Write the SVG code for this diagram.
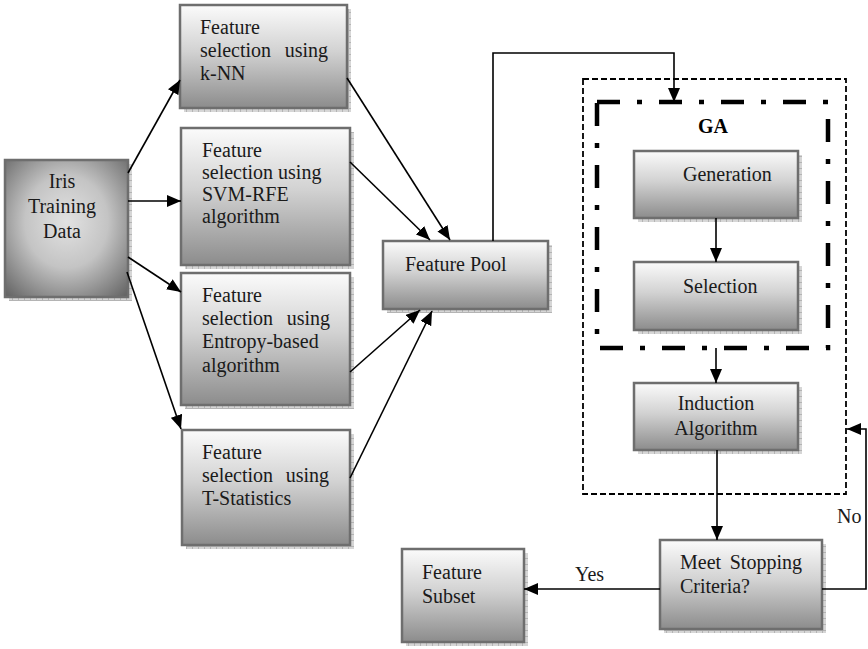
<svg xmlns="http://www.w3.org/2000/svg" width="868" height="649" viewBox="0 0 868 649">
<defs>
  <linearGradient id="boxGrad" x1="0" y1="0" x2="0" y2="1">
    <stop offset="0" stop-color="#fbfbfb"/>
    <stop offset="0.45" stop-color="#d2d2d2"/>
    <stop offset="1" stop-color="#8c8c8c"/>
  </linearGradient>
  <radialGradient id="irisGrad" cx="0.5" cy="0.45" r="0.75">
    <stop offset="0" stop-color="#e2e2e2"/>
    <stop offset="0.45" stop-color="#c4c4c4"/>
    <stop offset="1" stop-color="#5e5e5e"/>
  </radialGradient>
  <pattern id="shadowPat" width="6" height="6" patternUnits="userSpaceOnUse">
    <rect width="6" height="6" fill="#d6d6d6"/>
    <path d="M0,0.5 H6 M0.5,0 V6" stroke="#b4b4b4" stroke-width="1"/>
  </pattern>
  <marker id="arr" markerUnits="userSpaceOnUse" markerWidth="15" markerHeight="12" refX="14" refY="6" orient="auto">
    <path d="M0,0 L14,6 L0,12 z" fill="#000"/>
  </marker>
  <style>
    .shadow{fill:url(#shadowPat);}
    .box{fill:url(#boxGrad);stroke:#6e6e6e;stroke-width:2.5;}
    .iris{fill:url(#irisGrad);stroke:#6e6e6e;stroke-width:2.5;}
    .t{font-family:"Liberation Serif","Times New Roman",serif;font-size:20px;fill:#1a1a1a;}
    .b{font-family:"Liberation Serif","Times New Roman",serif;font-size:20px;font-weight:bold;fill:#000;}
    .c{fill:none;stroke:#000;stroke-width:1.6;marker-end:url(#arr);}
  </style>
</defs>

<g id="outer-loop">
  <rect x="583" y="79" width="263" height="415" fill="none" stroke="#000" stroke-width="1.8" stroke-dasharray="6,3"/>
</g>
<g id="ga-group">
  <rect x="597" y="102" width="231" height="246" fill="none" stroke="#000" stroke-width="4.5" stroke-dasharray="23,17,5,17"/>
  <text class="b" x="713" y="133" text-anchor="middle">GA</text>
</g>

<g id="iris">
  <rect class="shadow" x="9" y="164" width="123" height="137"/>
  <rect class="iris" x="5" y="160" width="123" height="137"/>
  <text class="t" x="62" y="188" text-anchor="middle">Iris</text>
  <text class="t" x="62" y="213" text-anchor="middle">Training</text>
  <text class="t" x="62" y="238" text-anchor="middle">Data</text>
</g>

<g id="knn">
  <rect class="shadow" x="184" y="9" width="167" height="103"/>
  <rect class="box" x="180" y="5" width="167" height="103"/>
  <text class="t" x="200" y="34">Feature</text>
  <text class="t" x="200" y="57">selection</text>
  <text class="t" x="328" y="57" text-anchor="end">using</text>
  <text class="t" x="200" y="80">k-NN</text>
</g>

<g id="svm">
  <rect class="shadow" x="185" y="132" width="169" height="137"/>
  <rect class="box" x="181" y="128" width="169" height="137"/>
  <text class="t" x="202" y="157">Feature</text>
  <text class="t" x="202" y="179">selection using</text>
  <text class="t" x="202" y="201">SVM-RFE</text>
  <text class="t" x="202" y="223">algorithm</text>
</g>

<g id="entropy">
  <rect class="shadow" x="185" y="277" width="169" height="132"/>
  <rect class="box" x="181" y="273" width="169" height="132"/>
  <text class="t" x="202" y="302">Feature</text>
  <text class="t" x="202" y="325">selection</text>
  <text class="t" x="330" y="325" text-anchor="end">using</text>
  <text class="t" x="202" y="348">Entropy-based</text>
  <text class="t" x="202" y="372">algorithm</text>
</g>

<g id="tstat">
  <rect class="shadow" x="186" y="434" width="168" height="115"/>
  <rect class="box" x="182" y="430" width="168" height="115"/>
  <text class="t" x="202" y="459">Feature</text>
  <text class="t" x="202" y="482">selection</text>
  <text class="t" x="329" y="482" text-anchor="end">using</text>
  <text class="t" x="202" y="505">T-Statistics</text>
</g>

<g id="pool">
  <rect class="shadow" x="387" y="245" width="165" height="68"/>
  <rect class="box" x="383" y="241" width="165" height="68"/>
  <text class="t" x="405" y="271">Feature Pool</text>
</g>

<g id="generation">
  <rect class="shadow" x="638" y="155" width="164" height="67"/>
  <rect class="box" x="634" y="151" width="164" height="67"/>
  <text class="t" x="683" y="181">Generation</text>
</g>

<g id="selection">
  <rect class="shadow" x="638" y="266" width="164" height="68"/>
  <rect class="box" x="634" y="262" width="164" height="68"/>
  <text class="t" x="683" y="293">Selection</text>
</g>

<g id="induction">
  <rect class="shadow" x="638" y="387" width="164" height="67"/>
  <rect class="box" x="634" y="383" width="164" height="67"/>
  <text class="t" x="716" y="410" text-anchor="middle">Induction</text>
  <text class="t" x="716" y="435" text-anchor="middle">Algorithm</text>
</g>

<g id="meet">
  <rect class="shadow" x="664" y="544" width="162" height="89"/>
  <rect class="box" x="660" y="540" width="162" height="89"/>
  <text class="t" x="680" y="569">Meet</text>
  <text class="t" x="802" y="569" text-anchor="end">Stopping</text>
  <text class="t" x="680" y="593">Criteria?</text>
</g>

<g id="subset">
  <rect class="shadow" x="406" y="553" width="122" height="93"/>
  <rect class="box" x="402" y="549" width="122" height="93"/>
  <text class="t" x="422" y="579">Feature</text>
  <text class="t" x="422" y="603">Subset</text>
</g>

<g id="connectors">
  <path class="c" d="M128,173 L180,80"/>
  <path class="c" d="M128,201 L181,201"/>
  <path class="c" d="M128,257 L181,292"/>
  <path class="c" d="M127,272 L181,429"/>
  <path class="c" d="M347,78 L450,240"/>
  <path class="c" d="M350,162 L430,240"/>
  <path class="c" d="M350,372 L420,310"/>
  <path class="c" d="M350,478 L432,311"/>
  <path class="c" d="M493,241 V53 H674 V102"/>
  <path class="c" d="M716,218 V262"/>
  <path class="c" d="M716,348 V383"/>
  <path class="c" d="M717,450 V540"/>
  <path class="c" d="M660,589 H524"/>
  <path class="c" d="M822,589 H866 V429 H847"/>
  <text class="t" x="575" y="581">Yes</text>
  <text class="t" x="837" y="523">No</text>
</g>
</svg>
